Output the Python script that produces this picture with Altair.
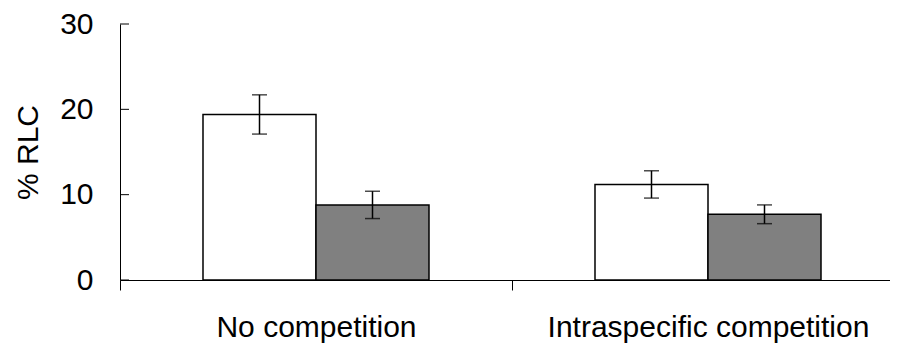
import altair as alt
import pandas as pd

groups = ["No competition", "No competition", "Intraspecific competition", "Intraspecific competition"]
series = ["A", "B", "A", "B"]
values = [19.4, 8.8, 11.2, 7.7]
errors = [2.3, 1.6, 1.6, 1.1]
y_ticks = [0, 10, 20, 30]
group_order = ["No competition", "Intraspecific competition"]
colors = ["#ffffff", "#808080"]

df = pd.DataFrame({"group": groups, "series": series, "value": values, "err": errors})
df["lo"] = df["value"] - df["err"]
df["hi"] = df["value"] + df["err"]
tick_df = pd.DataFrame({"t": y_ticks})

FONT = "Liberation Sans"

x_scale = alt.Scale(range=[0, 784], paddingInner=0, paddingOuter=0)
x_enc = alt.X(
    "group:N",
    sort=group_order,
    scale=x_scale,
    axis=alt.Axis(
        title=None, tickBand="extent", tickSize=10, tickColor="#000", domainColor="#000",
        labelFont=FONT, labelFontSize=30, labelColor="#000", labelBaseline="alphabetic",
        labelPadding=46, labelAngle=0, labelLimit=0, grid=False,
    ),
)
xo = alt.XOffset("series:N", scale=alt.Scale(paddingInner=0, paddingOuter=0.7345))
y_scale = alt.Scale(domain=[0, 30], nice=False)

base = alt.Chart(df)

bars = base.mark_bar(stroke="#000", strokeWidth=1.5).encode(
    x=x_enc,
    xOffset=xo,
    y=alt.Y(
        "value:Q", scale=y_scale,
        axis=alt.Axis(
            values=y_ticks, ticks=False, grid=False, domainColor="#000",
            labelFont=FONT, labelFontSize=30, labelColor="#000", labelPadding=27,
            title="% RLC", titleFont=FONT, titleFontSize=30, titleFontWeight="normal",
            titleColor="#000", titleAngle=270, titleBaseline="alphabetic",
            titleX=-83, titleY=128, titleAlign="center",
        ),
    ),
    color=alt.Color("series:N", scale=alt.Scale(domain=["A", "B"], range=colors), legend=None),
)

rules = base.mark_rule(color="#000", strokeWidth=1.5).encode(
    x=alt.X("group:N", sort=group_order), xOffset=xo,
    y=alt.Y("lo:Q", scale=y_scale), y2="hi:Q",
)
caps_lo = base.mark_tick(color="#000", size=15, thickness=1.5, orient="horizontal").encode(
    x=alt.X("group:N", sort=group_order), xOffset=xo, y=alt.Y("lo:Q", scale=y_scale),
)
caps_hi = base.mark_tick(color="#000", size=15, thickness=1.5, orient="horizontal").encode(
    x=alt.X("group:N", sort=group_order), xOffset=xo, y=alt.Y("hi:Q", scale=y_scale),
)
yticks = alt.Chart(tick_df).mark_rule(color="#000", strokeWidth=1).encode(
    y=alt.Y("t:Q", scale=y_scale), x=alt.value(0), x2=alt.value(9),
)

chart = alt.layer(bars, rules, caps_lo, caps_hi, yticks).properties(
    width=770, height=256,
    background="#ffffff",
    autosize=alt.AutoSizeParams(type="none"),
    padding={"left": 112, "top": 16, "right": 0, "bottom": 64},
).configure_view(strokeWidth=0, stroke="transparent")

chart.save("out.html", embed_options={"renderer": "svg", "actions": False})
